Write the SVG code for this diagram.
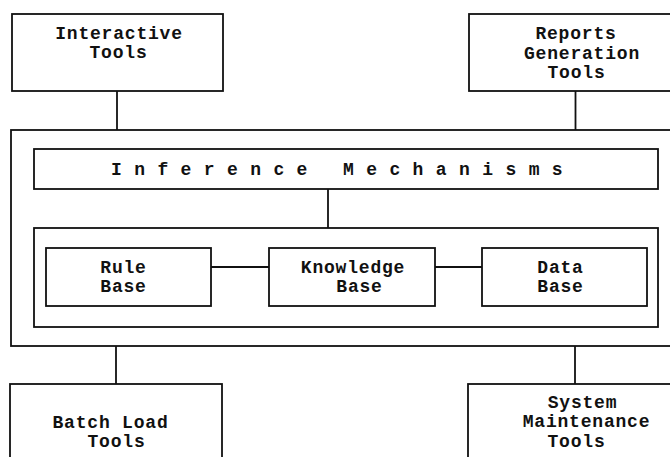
<svg xmlns="http://www.w3.org/2000/svg" width="670" height="457" viewBox="0 0 670 457">
<style>
rect{fill:none;stroke:#111;stroke-width:1.8}
line{stroke:#111;stroke-width:1.8}
text{font-family:"Liberation Mono","DejaVu Sans Mono",monospace;font-size:18px;font-weight:bold;fill:#111;letter-spacing:0.8px;text-anchor:middle}
.sp{letter-spacing:12.4px;text-anchor:start}
</style>
<rect x="0" y="0" width="670" height="457" style="fill:#fff;stroke:none"/>
<g id="connectors">
<line x1="117" y1="91" x2="117" y2="130"/>
<line x1="575.5" y1="91" x2="575.5" y2="130"/>
<line x1="328" y1="189" x2="328" y2="228"/>
<line x1="211" y1="267" x2="269" y2="267"/>
<line x1="435" y1="267" x2="482" y2="267"/>
<line x1="116" y1="346" x2="116" y2="384"/>
<line x1="575" y1="346" x2="575" y2="384"/>
</g>
<g id="interactive-tools">
<rect x="12" y="14" width="211" height="77"/>
<text x="119" y="39">Interactive</text>
<text x="118.5" y="58">Tools</text>
</g>
<g id="reports-generation-tools">
<rect x="469" y="14" width="220" height="77"/>
<text x="576" y="39">Reports</text>
<text x="582" y="59">Generation</text>
<text x="576.5" y="78">Tools</text>
</g>
<g id="expert-system">
<rect x="11" y="130" width="680" height="216"/>
</g>
<g id="inference-mechanisms">
<rect x="34" y="149" width="624" height="40"/>
<text class="sp" x="111" y="175">Inference Mechanisms</text>
</g>
<g id="bases-container">
<rect x="34" y="228" width="624" height="99"/>
</g>
<g id="rule-base">
<rect x="46" y="248" width="165" height="58"/>
<text x="123.5" y="273">Rule</text>
<text x="123.5" y="292">Base</text>
</g>
<g id="knowledge-base">
<rect x="269" y="248" width="166" height="58"/>
<text x="353" y="273">Knowledge</text>
<text x="359.5" y="292">Base</text>
</g>
<g id="data-base">
<rect x="482" y="248" width="165" height="58"/>
<text x="560.5" y="273">Data</text>
<text x="560.5" y="292">Base</text>
</g>
<g id="batch-load-tools">
<rect x="10" y="384" width="212" height="90"/>
<text x="110.5" y="428">Batch Load</text>
<text x="116.5" y="447">Tools</text>
</g>
<g id="system-maintenance-tools">
<rect x="468" y="384" width="220" height="90"/>
<text x="582.5" y="408">System</text>
<text x="586.5" y="427">Maintenance</text>
<text x="576.5" y="447">Tools</text>
</g>
</svg>
